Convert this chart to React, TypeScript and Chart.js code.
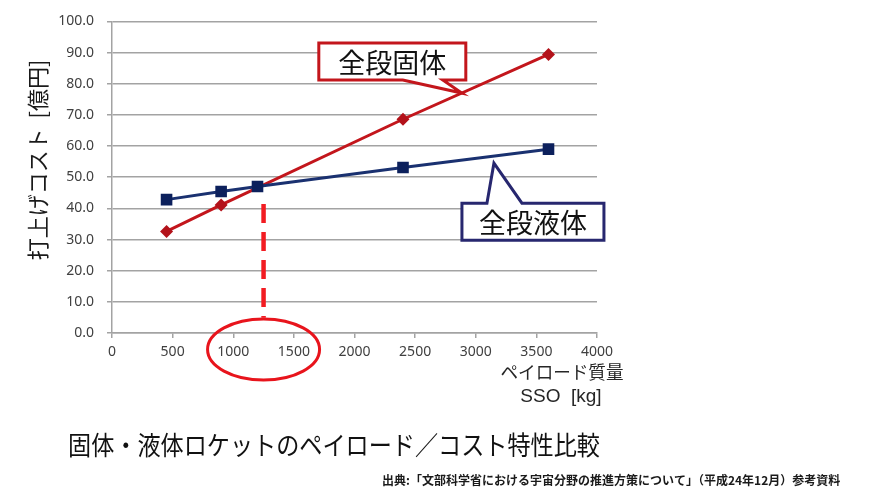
import React, { useEffect, useRef } from "react";
import { Chart, registerables } from "chart.js";

Chart.register(...registerables);

// ---- data ----
const liquidPayload = [450, 900, 1200, 2400, 3600];
const liquidCost = [42.8, 45.4, 47.0, 53.1, 59.0];
const solidPayload = [450, 900, 2400, 3600];
const solidCost = [32.6, 41.1, 68.6, 89.4];
const crossoverPayload = [1250, 1250];
const crossoverCost = [41.4, 4.9];

const liquidLabel = "全段液体";
const solidLabel = "全段固体";
const yTitle = "打上げコスト  [億円]";
const xTitle1 = "ペイロード質量";
const xTitle2 = "SSO  [kg]";
const caption = "固体・液体ロケットのペイロード／コスト特性比較";
const source = "出典:「文部科学省における宇宙分野の推進方策について」（平成24年12月）参考資料";

// annotation anchors (data units)
const solidCalloutTip = { x: 2885, y: 77.0 };
const liquidCalloutTip = { x: 3150, y: 54.5 };

const RED = "#c3161c";
const NAVY_LINE = "#1a3170";
const NAVY_MARK = "#0c205c";
const DASH_RED = "#f21c22";
const GRID = "#a3a3a3";
const CJK = '"Noto Sans CJK JP", "Noto Sans", sans-serif';

const annotations = {
  id: "annotations",
  afterDraw(chart: any) {
    const ctx = chart.ctx;
    const xs = chart.scales.x;
    const ys = chart.scales.y;
    const area = chart.chartArea;
    ctx.save();

    // ellipse around the crossover payload
    const ex = xs.getPixelForValue(crossoverPayload[0]);
    ctx.beginPath();
    ctx.ellipse(ex, area.bottom + 16.5, 56, 30.5, 0, 0, Math.PI * 2);
    ctx.strokeStyle = "#e8141c";
    ctx.lineWidth = 3;
    ctx.stroke();

    const callout = (
      tip: { x: number; y: number },
      pts: number[][],
      color: string,
      text: string,
      box: number[]
    ) => {
      const tx = xs.getPixelForValue(tip.x);
      const ty = ys.getPixelForValue(tip.y);
      ctx.beginPath();
      pts.forEach((p, i) => {
        if (i === 0) ctx.moveTo(tx + p[0], ty + p[1]);
        else ctx.lineTo(tx + p[0], ty + p[1]);
      });
      ctx.closePath();
      ctx.fillStyle = "#ffffff";
      ctx.fill();
      ctx.lineWidth = 3;
      ctx.lineJoin = "miter";
      ctx.strokeStyle = color;
      ctx.stroke();
      ctx.fillStyle = "#111111";
      ctx.font = `27px ${CJK}`;
      ctx.textAlign = "center";
      ctx.textBaseline = "middle";
      ctx.fillText(text, tx + (box[0] + box[1]) / 2, ty + (box[2] + box[3]) / 2 + 1.5);
    };

    // solid callout (box above-left of tip)
    callout(
      solidCalloutTip,
      [
        [-143, -50],
        [4, -50],
        [4, -13],
        [-19, -13],
        [0, 0],
        [-59, -13],
        [-143, -13],
      ],
      RED,
      solidLabel,
      [-143, 4, -50, -13]
    );
    // liquid callout (box below tip)
    callout(
      liquidCalloutTip,
      [
        [-32, 40],
        [-7, 40],
        [0, 0],
        [28, 40],
        [110, 40],
        [110, 77],
        [-32, 77],
      ],
      "#27276f",
      liquidLabel,
      [-32, 110, 40, 77]
    );

    // y axis title
    ctx.save();
    ctx.translate(38, 160);
    ctx.rotate(-Math.PI / 2);
    ctx.font = `22px ${CJK}`;
    ctx.fillStyle = "#1a1a1a";
    ctx.textAlign = "center";
    ctx.textBaseline = "middle";
    ctx.fillText(yTitle, 0, 0, 206);
    ctx.restore();

    // x axis title
    ctx.fillStyle = "#262626";
    ctx.textAlign = "center";
    ctx.textBaseline = "middle";
    ctx.font = `18px ${CJK}`;
    ctx.fillText(xTitle1, 562, 372, 123);
    ctx.font = `19px "Liberation Sans", Arial, sans-serif`;
    ctx.fillText(xTitle2, 561, 397, 88);

    // caption
    ctx.fillStyle = "#111111";
    ctx.textAlign = "left";
    ctx.font = `26px ${CJK}`;
    ctx.fillText(caption, 68, 445, 532);

    // source
    ctx.font = `bold 12px ${CJK}`;
    ctx.fillStyle = "#1a1a1a";
    ctx.fillText(source, 382, 480, 463);

    ctx.restore();
  },
};

export default function App() {
  const ref = useRef<HTMLCanvasElement | null>(null);
  useEffect(() => {
    if (!ref.current) return;
    const chart = new Chart(ref.current, {
      type: "line",
      data: {
        datasets: [
          {
            label: liquidLabel,
            data: liquidPayload.map((x, i) => ({ x, y: liquidCost[i] })),
            borderColor: NAVY_LINE,
            backgroundColor: NAVY_MARK,
            pointBorderColor: NAVY_MARK,
            borderWidth: 3,
            pointStyle: "rect",
            pointRadius: 8.2,
            pointBorderWidth: 0,
          },
          {
            label: solidLabel,
            data: solidPayload.map((x, i) => ({ x, y: solidCost[i] })),
            borderColor: RED,
            backgroundColor: "#b3121a",
            pointBorderColor: "#b3121a",
            borderWidth: 3,
            pointStyle: "rectRot",
            pointRadius: 6.5,
            pointBorderWidth: 0,
          },
          {
            label: "crossover",
            data: crossoverPayload.map((x, i) => ({ x, y: crossoverCost[i] })),
            borderColor: DASH_RED,
            borderWidth: 4.5,
            borderDash: [19, 9],
            pointRadius: 0,
          },
        ],
      },
      options: {
        animation: false,
        responsive: false,
        maintainAspectRatio: false,
        layout: { padding: { top: 21, right: 285, left: 0, bottom: 0 } },
        plugins: { legend: { display: false }, tooltip: { enabled: false } },
        scales: {
          x: {
            type: "linear",
            min: 0,
            max: 4000,
            ticks: {
              stepSize: 500,
              callback: (v: any) => String(v),
              color: "#404040",
              font: { family: '"Noto Sans", sans-serif', size: 14 },
              padding: 6,
              maxRotation: 0,
            },
            grid: { drawOnChartArea: false, drawTicks: true, tickLength: 5, color: GRID, lineWidth: 1.5 },
            border: { color: GRID, width: 1.5 },
            afterFit: (s: any) => {
              s.height = 162;
            },
          },
          y: {
            min: 0,
            max: 100,
            ticks: {
              stepSize: 10,
              callback: (v: any) => Number(v).toFixed(1),
              color: "#404040",
              font: { family: '"Noto Sans", sans-serif', size: 14 },
              padding: 13,
            },
            grid: { color: GRID, lineWidth: 1.5, tickLength: 5 },
            border: { color: GRID, width: 1.5 },
            afterFit: (s: any) => {
              s.width = 112;
            },
          },
        },
      },
      plugins: [annotations],
    });
    return () => chart.destroy();
  }, []);
  return (
    <div style={{ position: "fixed", left: 0, top: 0, width: 882, height: 495, background: "#fff" }}>
      <canvas ref={ref} width={882} height={495} style={{ width: 882, height: 495, display: "block" }} />
    </div>
  );
}
